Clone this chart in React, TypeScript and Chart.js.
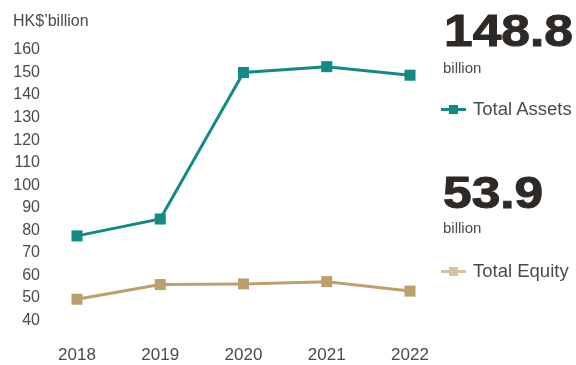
import React, { useEffect, useRef } from "react";
import { Chart, registerables } from "chart.js";

Chart.register(...registerables);

const years = ["2018", "2019", "2020", "2021", "2022"];
const totalAssets = [77.5, 85, 150, 152.6, 148.8];
const totalEquity = [49.4, 55.9, 56.2, 57.2, 53.0];
const yMin = 40;
const yMax = 160;
const yStep = 10;
const unitLabel = "HK$\u2019billion";
const assetsHeadline = "148.8";
const equityHeadline = "53.9";
const headlineUnit = "billion";
const assetsName = "Total Assets";
const equityName = "Total Equity";

const TEAL = "#128a85";
const TAN = "#bd9f6b";
const TAN_LEGEND = "#d6c4a0";
const TEXT = "#4a4a4a";
const DARK = "#2d2926";
const FONT = "'Liberation Sans', Arial, Helvetica, sans-serif";

function LegendMarker({ color, top }: { color: string; top: number }) {
  return (
    <div style={{ position: "absolute", left: 441, top: top, width: 25, height: 9 }}>
      <div style={{ position: "absolute", left: 0, top: 3, width: 25, height: 3, background: color }} />
      <div style={{ position: "absolute", left: 8, top: 0, width: 9, height: 9, background: color }} />
    </div>
  );
}

const bigStyle = {
  position: "absolute" as const,
  fontFamily: FONT,
  fontWeight: 700,
  fontSize: 44,
  lineHeight: 1,
  color: DARK,
  whiteSpace: "nowrap" as const,
  transform: "scaleX(1.17)",
  transformOrigin: "left top",
  WebkitTextStroke: "1px " + DARK,
};

export default function App() {
  const canvasRef = useRef<HTMLCanvasElement | null>(null);

  useEffect(() => {
    const canvas = canvasRef.current;
    if (!canvas) return;
    const chart = new Chart(canvas, {
      type: "line",
      data: {
        labels: years,
        datasets: [
          {
            label: assetsName,
            data: totalAssets,
            borderColor: TEAL,
            backgroundColor: TEAL,
            borderWidth: 3,
            pointStyle: "rect",
            pointRadius: 7.8,
            pointBorderWidth: 0,
            tension: 0,
            clip: false as any,
          },
          {
            label: equityName,
            data: totalEquity,
            borderColor: TAN,
            backgroundColor: TAN,
            borderWidth: 3,
            pointStyle: "rect",
            pointRadius: 7.8,
            pointBorderWidth: 0,
            tension: 0,
            clip: false as any,
          },
        ],
      },
      options: {
        responsive: false,
        animation: false,
        layout: { padding: { left: 12, right: 166, top: 48, bottom: 0 } },
        plugins: { legend: { display: false }, tooltip: { enabled: false } },
        scales: {
          x: {
            offset: false,
            grid: { display: false, drawTicks: false },
            border: { display: false },
            ticks: {
              padding: 25,
              color: TEXT,
              font: { family: FONT, size: 17 },
              maxRotation: 0,
              autoSkip: false,
            },
            afterFit: (s: any) => {
              s.height = 40;
            },
          },
          y: {
            min: yMin,
            max: yMax,
            grid: { display: false, drawTicks: false },
            border: { display: false },
            ticks: {
              stepSize: yStep,
              padding: 37,
              color: TEXT,
              font: { family: FONT, size: 16 },
            },
            afterFit: (s: any) => {
              s.width = 65;
            },
          },
        },
      },
    });
    return () => chart.destroy();
  }, []);

  return (
    <div style={{ position: "fixed", left: 0, top: 0, width: 576, height: 365, background: "#fff", overflow: "hidden" }}>
      <canvas ref={canvasRef} width={576} height={365} style={{ position: "absolute", left: 0, top: 2, display: "block" }} />
      <div style={{ position: "absolute", left: 13, top: 13, fontFamily: FONT, fontSize: 16, lineHeight: 1, color: TEXT, whiteSpace: "nowrap" }}>
        {unitLabel}
      </div>
      <div style={{ ...bigStyle, left: 444, top: 9 }}>{assetsHeadline}</div>
      <div style={{ position: "absolute", left: 443, top: 60, fontFamily: FONT, fontSize: 15, lineHeight: 1, color: TEXT, whiteSpace: "nowrap" }}>
        {headlineUnit}
      </div>
      <LegendMarker color={TEAL} top={105} />
      <div style={{ position: "absolute", left: 473, top: 100, fontFamily: FONT, fontSize: 18.5, lineHeight: 1, color: TEXT, whiteSpace: "nowrap" }}>
        {assetsName}
      </div>
      <div style={{ ...bigStyle, left: 443, top: 171 }}>{equityHeadline}</div>
      <div style={{ position: "absolute", left: 443, top: 220, fontFamily: FONT, fontSize: 15, lineHeight: 1, color: TEXT, whiteSpace: "nowrap" }}>
        {headlineUnit}
      </div>
      <LegendMarker color={TAN_LEGEND} top={267} />
      <div style={{ position: "absolute", left: 473, top: 262, fontFamily: FONT, fontSize: 18.5, lineHeight: 1, color: TEXT, whiteSpace: "nowrap" }}>
        {equityName}
      </div>
    </div>
  );
}
